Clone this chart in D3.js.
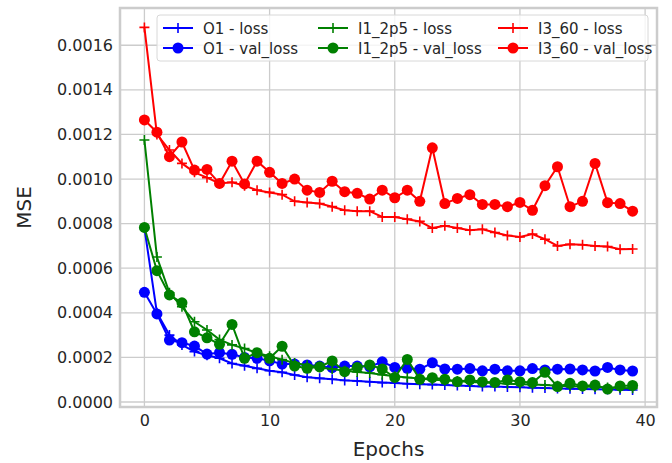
<!DOCTYPE html>
<html>
<head>
<meta charset="utf-8">
<script src="https://cdn.jsdelivr.net/npm/d3@7"></script>
<style>
  body { margin: 0; background: #fff; }
  svg text { font-family: "DejaVu Sans", sans-serif; fill: #262626; }
</style>
</head>
<body>
<div id="chart"></div>
<script>
// epochs 0..39
const epochs = d3.range(0, 40)

const o1Loss = [0.00078, 0.0004, 0.0003, 0.000256, 0.000226, 0.00021, 0.000196, 0.000173, 0.000163, 0.000151,
  0.00014, 0.000133, 0.000121, 0.000111, 0.000106, 0.000102, 0.000097, 0.000094, 0.000091, 0.000087,
  0.000085, 0.000082, 0.00008, 0.000078, 0.000076, 0.000074, 0.000072, 0.00007, 0.000069, 0.000067,
  0.000066, 0.000064, 0.000063, 0.000061, 0.00006, 0.000058, 0.000057, 0.000056, 0.000055, 0.000054]
const o1Val = [0.000492, 0.000395, 0.000278, 0.000266, 0.000251, 0.000215, 0.000221, 0.000214, 0.0002, 0.000196,
  0.000185, 0.00017, 0.00017, 0.000166, 0.000161, 0.000154, 0.000161, 0.000161, 0.000158, 0.00018,
  0.000155, 0.000151, 0.000147, 0.000176, 0.000148, 0.000147, 0.00015, 0.00014, 0.000147, 0.00014,
  0.00014, 0.00015, 0.000144, 0.000147, 0.000148, 0.000144, 0.000139, 0.000155, 0.000144, 0.000139]

const i1Loss = [0.001175, 0.00065, 0.00049, 0.000427, 0.00036, 0.000323, 0.00028, 0.000256, 0.00024, 0.00022,
  0.000205, 0.00019, 0.000175, 0.000165, 0.000155, 0.000148, 0.00014, 0.000135, 0.00013, 0.000122,
  0.000115, 0.00011, 0.000105, 0.0001, 0.000097, 0.000094, 0.00009, 0.000087, 0.000085, 0.000082,
  0.00008, 0.000078, 0.000076, 0.000073, 0.000071, 0.000069, 0.000067, 0.000065, 0.000063, 0.000062]
const i1Val = [0.000783, 0.000589, 0.00048, 0.000445, 0.000315, 0.000288, 0.000259, 0.000348, 0.000196, 0.000221,
  0.000196, 0.00025, 0.000161, 0.000151, 0.000158, 0.000184, 0.000136, 0.000155, 0.000166, 0.000148,
  0.00011, 0.000191, 0.000102, 0.000109, 0.000102, 0.000091, 0.000099, 0.000091, 0.000088, 0.000099,
  0.000091, 0.000087, 0.000133, 0.000069, 0.000084, 0.000072, 0.000076, 0.000058, 0.000072, 0.000074]

const i3Loss = [0.00168, 0.0012, 0.00113, 0.00107, 0.00103, 0.001006, 0.00098, 0.000985, 0.00097, 0.00095,
  0.00094, 0.00093, 0.0009, 0.000895, 0.00089, 0.000876, 0.00086, 0.000856, 0.000856, 0.00083,
  0.00083, 0.00082, 0.00081, 0.00078, 0.00079, 0.00078, 0.00077, 0.000775, 0.00076, 0.000747,
  0.00074, 0.000753, 0.00073, 0.0007, 0.000707, 0.000705, 0.0007, 0.000697, 0.000685, 0.000686]
const i3Val = [0.001265, 0.00121, 0.0011, 0.001166, 0.00104, 0.001043, 0.00098, 0.00108, 0.000978, 0.00108,
  0.00103, 0.00098, 0.001, 0.00095, 0.00094, 0.00099, 0.000943, 0.000936, 0.00091, 0.00095,
  0.000916, 0.00095, 0.0009, 0.00114, 0.00089, 0.000913, 0.00093, 0.000886, 0.000886, 0.000876,
  0.000895, 0.00086, 0.00097, 0.001055, 0.000876, 0.0009, 0.00107, 0.000894, 0.00089, 0.000856]

const xTicks = [0, 10, 20, 30, 40]
const yTicks = [0, 0.0002, 0.0004, 0.0006, 0.0008, 0.001, 0.0012, 0.0014, 0.0016]

const series = [
  {name: "O1 - loss", values: o1Loss, color: "blue", marker: "plus"},
  {name: "O1 - val_loss", values: o1Val, color: "blue", marker: "circle"},
  {name: "I1_2p5 - loss", values: i1Loss, color: "green", marker: "plus"},
  {name: "I1_2p5 - val_loss", values: i1Val, color: "green", marker: "circle"},
  {name: "I3_60 - loss", values: i3Loss, color: "red", marker: "plus"},
  {name: "I3_60 - val_loss", values: i3Val, color: "red", marker: "circle"}
]

const W = 672, H = 463
const margin = {top: 8, right: 15, bottom: 56, left: 120}
const width = W - margin.left - margin.right
const height = H - margin.top - margin.bottom

const svg = d3.select("#chart").append("svg")
  .attr("width", W).attr("height", H)

const g = svg.append("g")
  .attr("transform", `translate(${margin.left},${margin.top})`)

// matplotlib-ish 5% margins
let x = d3.scaleLinear().domain([-1.95, 40.95]).range([0, width])
let y = d3.scaleLinear().domain([-0.0000224, 0.001767]).range([height, 0])

// grid
g.append("g").selectAll("line").data(xTicks).join("line")
  .attr("x1", d => x(d)).attr("x2", d => x(d))
  .attr("y1", 0).attr("y2", height)
  .attr("stroke", "#cccccc").attr("stroke-width", 1.3)
g.append("g").selectAll("line").data(yTicks).join("line")
  .attr("y1", d => y(d)).attr("y2", d => y(d))
  .attr("x1", 0).attr("x2", width)
  .attr("stroke", "#cccccc").attr("stroke-width", 1.3)

// axes (labels only, no tick marks)
const xAxis = g.append("g")
  .attr("transform", `translate(0,${height})`)
  .call(d3.axisBottom(x).tickValues(xTicks).tickSize(0).tickPadding(8).tickFormat(d3.format("d")))
xAxis.select(".domain").remove()
xAxis.selectAll("text").style("font-size", "16px").attr("fill", "#262626")

const yAxis = g.append("g")
  .call(d3.axisLeft(y).tickValues(yTicks).tickSize(0).tickPadding(7).tickFormat(d3.format(".4f")))
yAxis.select(".domain").remove()
yAxis.selectAll("text").style("font-size", "16px").attr("fill", "#262626")

// series
const line = d3.line().x((d, i) => x(epochs[i])).y(d => y(d))
for (let s of series) {
  const sg = g.append("g")
  sg.append("path")
    .attr("d", line(s.values))
    .attr("fill", "none")
    .attr("stroke", s.color)
    .attr("stroke-width", 2)
  if (s.marker === "circle") {
    sg.selectAll("circle").data(s.values).join("circle")
      .attr("cx", (d, i) => x(epochs[i])).attr("cy", d => y(d))
      .attr("r", 5.5).attr("fill", s.color)
  } else {
    sg.selectAll("path.plus").data(s.values).join("path")
      .attr("class", "plus")
      .attr("d", (d, i) => {
        const px = x(epochs[i]), py = y(d)
        return `M${px - 5},${py}H${px + 5}M${px},${py - 5}V${py + 5}`
      })
      .attr("stroke", s.color).attr("stroke-width", 1.6)
  }
}

// frame
g.append("rect")
  .attr("x", 0).attr("y", 0).attr("width", width).attr("height", height)
  .attr("fill", "none").attr("stroke", "#cccccc").attr("stroke-width", 2.5)

// axis labels
svg.append("text")
  .attr("x", margin.left + width / 2).attr("y", 456)
  .attr("text-anchor", "middle").style("font-size", "20px")
  .text("Epochs")
svg.append("text")
  .attr("transform", `translate(31,${margin.top + height / 2}) rotate(-90)`)
  .attr("text-anchor", "middle").style("font-size", "20px")
  .text("MSE")

// legend
const leg = g.append("g").attr("transform", "translate(37,7)")
leg.append("rect")
  .attr("x", 0).attr("y", 0).attr("width", 491).attr("height", 46).attr("rx", 3)
  .attr("fill", "white").attr("fill-opacity", 0.8)
  .attr("stroke", "#d8d8d8").attr("stroke-width", 1)
const colX = [6, 161, 341]
series.forEach((s, i) => {
  const cx = colX[Math.floor(i / 2)]
  const cy = 13 + (i % 2) * 20
  const lg = leg.append("g").attr("transform", `translate(${cx},${cy})`)
  lg.append("line").attr("x1", 0).attr("x2", 30).attr("y1", 0).attr("y2", 0)
    .attr("stroke", s.color).attr("stroke-width", 2)
  if (s.marker === "circle") {
    lg.append("circle").attr("cx", 15).attr("cy", 0).attr("r", 5.5).attr("fill", s.color)
  } else {
    lg.append("path").attr("d", "M10,0H20M15,-5V5").attr("stroke", s.color).attr("stroke-width", 1.6)
  }
  lg.append("text").attr("x", 40).attr("y", 5.5).style("font-size", "15px").text(s.name)
})
</script>
</body>
</html>
